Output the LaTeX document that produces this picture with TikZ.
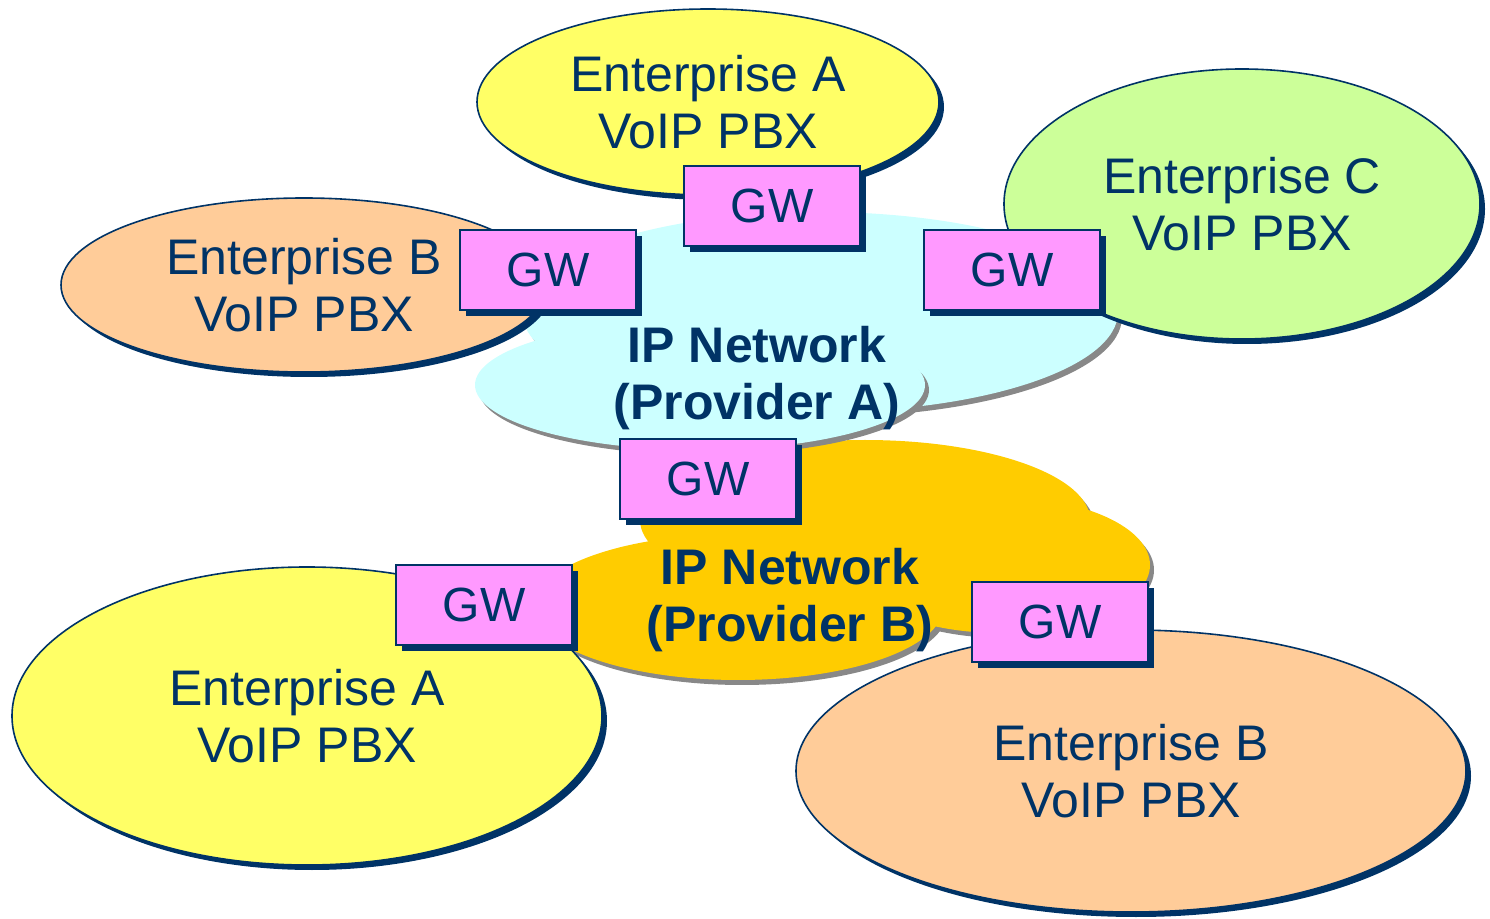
\documentclass[tikz,border=0pt]{standalone}
\usepackage{fontspec}
\setmainfont{Liberation Sans}
\usetikzlibrary{shapes.geometric,shadows}
\definecolor{navy}{HTML}{003366}
\definecolor{entyellow}{HTML}{FFFF66}
\definecolor{entgreen}{HTML}{CCFF99}
\definecolor{entorange}{HTML}{FFCC99}
\definecolor{cloudcyan}{HTML}{CCFFFF}
\definecolor{cloudgold}{HTML}{FFCC00}
\definecolor{gwpink}{HTML}{FF99FF}
\definecolor{cloudshadow}{HTML}{888888}
\begin{document}
\begin{tikzpicture}[x=0.5pt,y=-0.5pt,
  ent/.style={ellipse, draw=navy, line width=0.8pt, inner sep=0pt, align=center,
    text=navy, font=\fontsize{25}{28.5}\selectfont,
    drop shadow={shadow xshift=2.5pt, shadow yshift=-2.5pt, fill=navy, opacity=1}},
  gw/.style={rectangle, draw=navy, line width=0.8pt, fill=gwpink, minimum width=88pt,
    minimum height=40pt, inner sep=0pt, text=navy, font=\fontsize{24}{28}\selectfont,
    drop shadow={shadow xshift=3pt, shadow yshift=-3pt, fill=navy, opacity=1}},
  cloudlabel/.style={align=center, text=navy, font=\fontsize{25}{28.5}\selectfont\bfseries},
  lobeshadow/.style={fill=cloudshadow},
]
\useasboundingbox (0,0) rectangle (1490,919);

% Cloud B (Provider B): shadows of all lobes, then fills
\fill[lobeshadow] (1004,570) ellipse [x radius=75pt, y radius=34pt];
\fill[lobeshadow] (869,525) ellipse [x radius=112.5pt, y radius=40pt];
\fill[lobeshadow] (742,612) ellipse [x radius=102.5pt, y radius=36.5pt];
\fill[cloudgold] (1000,565) ellipse [x radius=75pt, y radius=34pt];
\fill[cloudgold] (865,520) ellipse [x radius=112.5pt, y radius=40pt];
\fill[cloudgold] (738,607) ellipse [x radius=102.5pt, y radius=36.5pt];

% Cloud A (Provider A)
\fill[lobeshadow] (824,317) ellipse [x radius=149pt, y radius=50pt];
\fill[cloudcyan] (820,312) ellipse [x radius=149pt, y radius=50pt];
\fill[lobeshadow] (704,390) ellipse [x radius=112.5pt, y radius=32.5pt];
\fill[cloudcyan] (700,385) ellipse [x radius=112.5pt, y radius=32.5pt];

\node[cloudlabel] (netA) at (757,378) {IP Network\\(Provider A)};
\node[cloudlabel] (netB) at (790,600) {IP Network\\(Provider B)};

% Enterprises
\node[ent, fill=entyellow, minimum width=231pt, minimum height=93pt] (entAtop) at (708,102) {Enterprise A\\VoIP PBX};
\node[ent, fill=entorange, minimum width=243pt, minimum height=87pt] (entBtop) at (304,285) {Enterprise B\\VoIP PBX};
\node[ent, fill=entgreen, minimum width=238pt, minimum height=135pt] (entC) at (1242,204) {Enterprise C\\VoIP PBX};
\node[ent, fill=entyellow, minimum width=295pt, minimum height=149pt] (entAbot) at (307,716) {Enterprise A\\VoIP PBX};
\node[ent, fill=entorange, minimum width=335pt, minimum height=141pt] (entBbot) at (1131,771) {Enterprise B\\VoIP PBX};

% Gateways
\node[gw] (gw1) at (772,206) {GW};
\node[gw] (gw2) at (548,270) {GW};
\node[gw] (gw3) at (1012,270) {GW};
\node[gw] (gw4) at (708,479) {GW};
\node[gw] (gw5) at (484,605) {GW};
\node[gw] (gw6) at (1060,622) {GW};
\end{tikzpicture}
\end{document}
